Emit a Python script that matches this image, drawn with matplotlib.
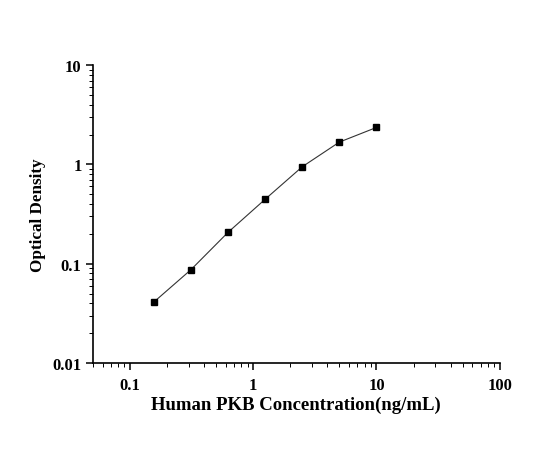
"""
Standard curve for the Human PKB ELISA kit.
Log-log plot of optical density versus concentration.
"""

import matplotlib
matplotlib.use("Agg")
import matplotlib.pyplot as plt
from matplotlib.ticker import LogLocator, FixedLocator, FixedFormatter, NullFormatter


# standard concentrations (ng/mL) and measured optical density
concentration = [0.156, 0.3125, 0.625, 1.25, 2.5, 5, 10]
optical_density = [0.041, 0.087, 0.207, 0.446, 0.948, 1.68, 2.36]

x_ticks = [0.1, 1, 10, 100]
x_tick_labels = ["0.1", "1", "10", "100"]
y_ticks = [0.01, 0.1, 1, 10]
y_tick_labels = ["0.01", "0.1", "1", "10"]


def main():
    plt.rcParams["font.family"] = ["Liberation Serif", "DejaVu Serif"]
    plt.rcParams["font.weight"] = "bold"

    fig = plt.figure(figsize=(5.59, 4.56), dpi=100)
    ax = fig.add_axes([0.166, 0.2018, 0.728, 0.653])

    # curve with square markers
    ax.plot(concentration, optical_density, color="#333333", linewidth=0.8,
            marker="s", markersize=5, markerfacecolor="black",
            markeredgecolor="black")

    ax.set_xscale("log")
    ax.set_yscale("log")
    ax.set_xlim(0.05, 100)
    ax.set_ylim(0.01, 10)

    # only left and bottom axis lines
    ax.spines["top"].set_visible(False)
    ax.spines["right"].set_visible(False)
    ax.spines["left"].set_linewidth(1.2)
    ax.spines["bottom"].set_linewidth(1.2)

    ax.xaxis.set_major_locator(FixedLocator(x_ticks))
    ax.xaxis.set_major_formatter(FixedFormatter(x_tick_labels))
    ax.yaxis.set_major_locator(FixedLocator(y_ticks))
    ax.yaxis.set_major_formatter(FixedFormatter(y_tick_labels))
    ax.xaxis.set_minor_locator(LogLocator(base=10, subs=range(2, 10), numticks=20))
    ax.yaxis.set_minor_locator(LogLocator(base=10, subs=range(2, 10), numticks=20))
    ax.xaxis.set_minor_formatter(NullFormatter())
    ax.yaxis.set_minor_formatter(NullFormatter())

    ax.tick_params(which="major", direction="out", length=5, width=1.1,
                   labelsize=12)
    ax.tick_params(axis="x", which="major", pad=5)
    ax.tick_params(axis="y", which="major", pad=3)
    ax.tick_params(which="minor", direction="out", length=3, width=0.7)

    ax.set_xlabel("Human PKB Concentration(ng/mL)", fontsize=13.5,
                  fontweight="bold", labelpad=2)
    ax.set_ylabel("Optical Density", fontsize=12.3, fontweight="bold",
                  labelpad=5)

    fig.savefig("out.png", dpi=100)


if __name__ == "__main__":
    main()
